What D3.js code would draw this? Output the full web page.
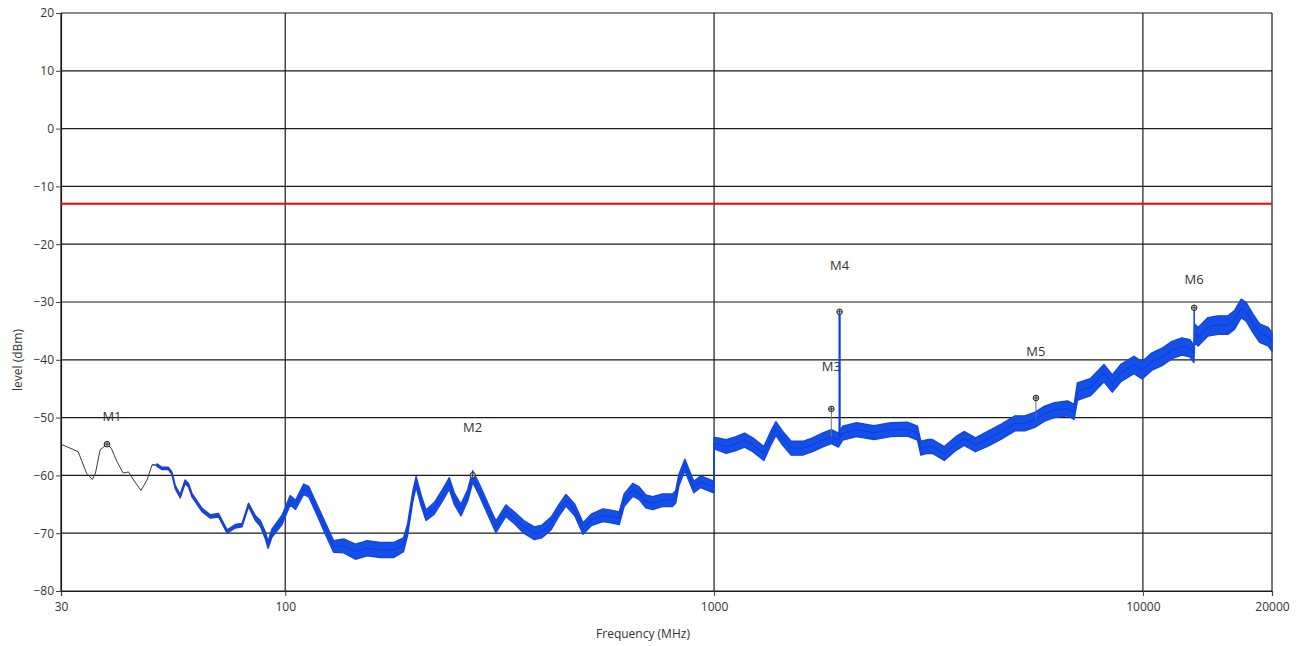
<!DOCTYPE html>
<html><head><meta charset="utf-8">
<script src="https://cdn.jsdelivr.net/npm/d3@7/dist/d3.min.js"></script>
<style>
html,body{margin:0;padding:0;background:#fff;}
svg{display:block;font-family:"Open Sans","Noto Sans",sans-serif;}
</style></head>
<body>
<svg id="chart" width="1305" height="646"></svg>
<script>
// ---- data ----
const xTickValues = [30, 100, 1000, 10000, 20000];
const xTickLabels = ["30", "100", "1000", "10000", "20000"];
const yTickValues = [20, 10, 0, -10, -20, -30, -40, -50, -60, -70, -80];
const limitLevel = -13;

const traceFreq = [30,32.9,34.4,35.5,36.1,37.0,38.4,39.3,40.5,41.9,43.1,44.3,46.1,47.6,48.9,
 50.2,51.6,53.4,54.4,55.4,56.9,58.4,59.5,60.6,64.0,66.9,69.9,73.2,76.5,79.3,82.1,85.2,87.5,89.8,91.2,93.1,
 98.3,102.7,105.7,110.4,113.4,118.7,124.1,129.7,136.9,145.8,155.2,166.7,179.2,188.7,192.9,198.3,201.9,207.4,213,
 222.6,232.8,241.3,247.8,256.9,266.5,273.6,283.6,296.4,310,327,343,360,381,397,417,435,451.5,473.5,495,517,
 550.6,575,601,617,646,669,693,719,758,800,814,828,855,873,897,930,975,999,
 1000.5,1067,1125,1178,1231,1307,1355,1394,1446,1512,1610,1697,1788,1877,1950,1995,2148,2358,2584,2824,2981,
 3035,3147,3231,3442,3661,3828,4069,4367,4686,5030,5303,5594,5900,6223,6675,6912,
 7035,7556,8114,8486,8880,9528,9960,10500,11080,11690,12330,12870,13150,
 13200,13450,14180,14960,15780,16360,16950,17410,18060,18710,19580,20000];
const traceLevel = [-54.6,-55.9,-59.6,-60.7,-59.6,-55.6,-54.6,-55.3,-57.6,-59.6,-59.4,-60.8,-62.6,-60.8,-58.2,
 -58.2,-58.8,-58.8,-59.6,-62.0,-63.6,-61.1,-61.7,-63.4,-66.0,-67.1,-66.9,-69.7,-68.8,-68.6,-65.1,-67.4,-68.3,-70.3,-72.0,-70.0,
 -67.7,-64.3,-65.1,-62.4,-62.8,-66.0,-69.2,-72.3,-72.2,-73.2,-72.6,-72.9,-72.9,-72.0,-69.4,-63.7,-61.1,-64.3,-66.9,
 -65.7,-63.4,-61.4,-64.0,-66.0,-63.4,-60.2,-62.5,-65.7,-68.9,-66.1,-67.4,-68.9,-70.0,-69.7,-68.3,-66.0,-64.3,-66.0,-69.2,-67.7,
 -66.9,-67.1,-67.4,-64.3,-62.5,-63.1,-64.5,-64.8,-64.3,-64.3,-63.7,-60.8,-58.2,-59.9,-62.0,-61.1,-61.7,-62.0,
 -54.4,-55.0,-54.5,-53.9,-54.7,-56.2,-53.6,-51.9,-53.6,-55.3,-55.3,-54.7,-53.9,-53.3,-53.9,-52.7,-52.1,-52.6,-52.1,-52.0,-52.7,
 -55.3,-55.0,-55.0,-56.2,-54.5,-53.6,-54.7,-53.6,-52.4,-51.0,-51.0,-50.4,-49.3,-48.7,-48.4,-49.0,
 -45.5,-44.7,-42.3,-44.1,-42.3,-40.9,-41.8,-40.3,-39.5,-38.3,-37.7,-38.0,-39.0,
 -35.4,-36.0,-34.3,-34.0,-34.0,-33.1,-31.1,-31.7,-33.7,-35.4,-36.0,-36.9];
const traceSpread = [0,0,0,0,0,0,0,0,0,0,0,0,0,0,0,
 0.2,0.2,0.2,0.2,0.3,0.3,0.3,0.3,0.3,0.3,0.3,0.3,0.3,0.3,0.3,0.3,0.4,0.5,0.6,0.6,0.7,
 0.8,0.8,0.8,0.9,0.9,0.9,1.0,1.0,1.2,1.3,1.3,1.3,1.3,1.2,1.0,0.9,0.9,0.9,0.9,
 1.0,1.0,1.0,1.0,1.0,1.0,1.0,1.0,1.0,1.0,1.0,1.0,1.1,1.1,1.1,1.1,1.0,1.0,1.0,1.0,1.0,
 1.1,1.1,1.1,1.1,1.1,1.1,1.1,1.1,1.1,1.1,1.1,1.0,1.0,1.0,1.0,1.0,1.0,1.0,
 1.0,1.2,1.2,1.2,1.2,1.2,1.2,1.2,1.2,1.2,1.2,1.2,1.2,1.2,1.2,1.2,1.2,1.2,1.2,1.2,1.2,
 1.2,1.2,1.2,1.2,1.2,1.2,1.2,1.3,1.3,1.3,1.3,1.3,1.3,1.3,1.3,1.3,
 1.5,1.5,1.5,1.5,1.5,1.5,1.5,1.5,1.5,1.5,1.5,1.5,1.5,
 1.6,1.6,1.6,1.6,1.6,1.6,1.6,1.6,1.6,1.6,1.6,1.6];

const markerNames = ["M1", "M2", "M3", "M4", "M5", "M6"];
const markerFreq = [38.4, 273.6, 1877, 1962, 5630, 13170];
const markerLevel = [-54.6, -60.0, -48.5, -31.7, -46.6, -31.0];
const markerBase = [-54.6, -60.0, -53.3, -53.5, -50.4, -39.0];
const markerLabelLevel = [-49.7, -51.6, -41.1, -23.6, -38.5, -26.0];

// ---- chart ----
const svg = d3.select("#chart");
const margin = {left: 61, right: 33, top: 13, bottom: 55};
const W = 1305, H = 646;
const x = d3.scaleLog().domain([30, 20000]).range([margin.left, W - margin.right]);
const y = d3.scaleLinear().domain([-80, 20]).range([H - margin.bottom, margin.top]);

const gridColor = "#1a1a1a";
// horizontal grid
svg.append("g").selectAll("line").data(yTickValues).join("line")
  .attr("x1", x(30)).attr("x2", x(20000))
  .attr("y1", d => y(d)).attr("y2", d => y(d))
  .attr("stroke", gridColor).attr("stroke-width", 1.2);
// vertical grid
svg.append("g").selectAll("line").data(xTickValues).join("line")
  .attr("x1", d => x(d)).attr("x2", d => x(d))
  .attr("y1", y(20)).attr("y2", y(-80))
  .attr("stroke", gridColor).attr("stroke-width", 1.2);

// axes
const yAxis = d3.axisLeft(y).tickValues(yTickValues).tickSize(5).tickPadding(2).tickFormat(d3.format("d"));
const gy = svg.append("g").attr("transform", `translate(${margin.left},0)`).call(yAxis);
const xAxis = d3.axisBottom(x).tickValues(xTickValues).tickSize(5).tickPadding(6)
  .tickFormat((d, i) => xTickLabels[i]);
const gx = svg.append("g").attr("transform", `translate(0,${y(-80)})`).call(xAxis);
[gx, gy].forEach(g => {
  g.select(".domain").attr("stroke", gridColor).attr("stroke-width", 1.2);
  g.selectAll(".tick line").attr("stroke", "#444");
  g.selectAll("text").attr("font-size", 12).attr("fill", "#333").attr("font-family", "'Open Sans',sans-serif");
});

// limit line
svg.append("line").attr("x1", x(30)).attr("x2", x(20000))
  .attr("y1", y(limitLevel)).attr("y2", y(limitLevel))
  .attr("stroke", "#ff0000").attr("stroke-width", 2.2);

// trace
const pts = traceFreq.map((f, i) => ({f, v: traceLevel[i], s: traceSpread[i]}));
const area = d3.area().x(d => x(d.f)).y0(d => y(d.v - d.s)).y1(d => y(d.v + d.s));
svg.append("path").datum(pts.filter(d => d.f >= 50.2)).attr("d", area)
  .attr("fill", "#1450e8").attr("stroke", "#1546d8").attr("stroke-width", 1.4).attr("stroke-linejoin", "round");
const line = d3.line().x(d => x(d.f)).y(d => y(d.v));
svg.append("path").datum(pts.filter(d => d.f <= 50.2)).attr("d", line)
  .attr("fill", "none").attr("stroke", "#3a3a3a").attr("stroke-width", 1);
svg.append("path").datum(pts.filter(d => d.f >= 48.9 && d.f <= 100)).attr("d", line)
  .attr("fill", "none").attr("stroke", "#2a3fb8").attr("stroke-width", 1.1);
svg.append("path").datum(pts.filter(d => d.f >= 90)).attr("d", line)
  .attr("fill", "none").attr("stroke", "#0d3fe0").attr("stroke-width", 1.2);

// markers
const stemColor = ["#444", "#444", "#777", "#0d3fe0", "#5a6ab0", "#1450e8"];
const stemWidth = [0, 0, 1, 2.2, 1, 1.6];
const mk = svg.append("g");
markerNames.forEach((name, i) => {
  const mx = x(markerFreq[i]);
  if (stemWidth[i] > 0) {
    mk.append("line").attr("x1", mx).attr("x2", mx)
      .attr("y1", y(markerBase[i])).attr("y2", y(markerLevel[i]))
      .attr("stroke", stemColor[i]).attr("stroke-width", stemWidth[i]);
  }
  const my = y(markerLevel[i]);
  mk.append("circle").attr("cx", mx).attr("cy", my).attr("r", 2.8)
    .attr("fill", "#d8d8d8").attr("stroke", "#222").attr("stroke-width", 1);
  mk.append("path").attr("d", `M${mx-2.5},${my}H${mx+2.5}M${mx},${my-2.5}V${my+2.5}`)
    .attr("stroke", "#222").attr("stroke-width", 0.8);
  mk.append("text").attr("x", mx + (i === 0 ? 5 : 0)).attr("y", y(markerLabelLevel[i]))
    .attr("text-anchor", "middle").attr("dominant-baseline", "central")
    .attr("font-size", 13).attr("fill", "#333").text(name);
});

// axis titles
svg.append("text").attr("x", 643).attr("y", 633).attr("text-anchor", "middle")
  .attr("dominant-baseline", "central").attr("font-size", 12).attr("fill", "#333").text("Frequency (MHz)");
svg.append("text").attr("transform", "translate(17,360) rotate(-90)").attr("text-anchor", "middle")
  .attr("dominant-baseline", "central").attr("font-size", 12).attr("fill", "#333").text("level (dBm)");
</script>
</body></html>
